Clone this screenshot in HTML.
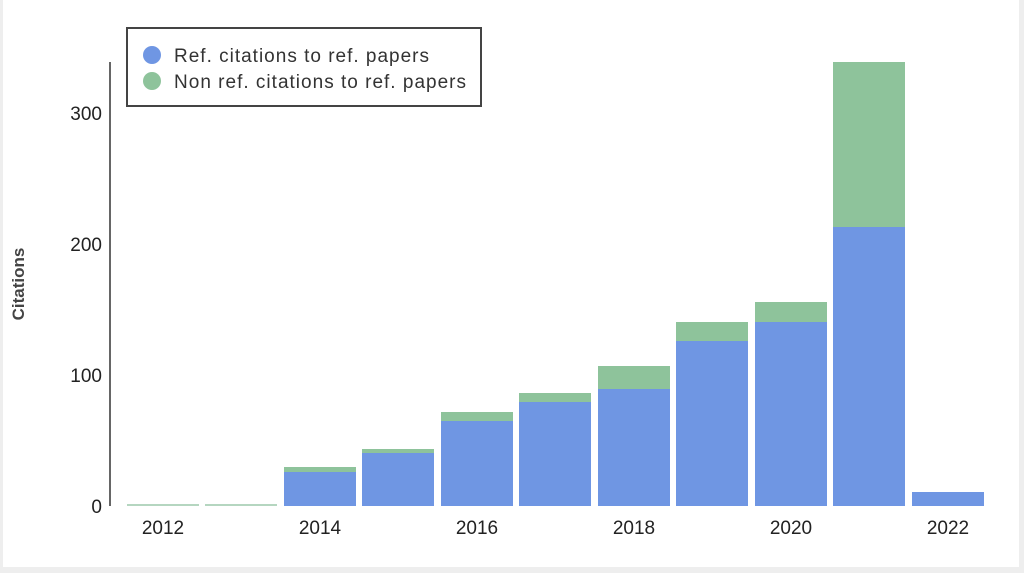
<!DOCTYPE html>
<html><head><style>
html,body{margin:0;padding:0;background:#eeeeee;}
svg{display:block;font-family:"Liberation Sans",Roboto,sans-serif;}
</style></head><body>
<svg width="1024" height="573" viewBox="0 0 1024 573">
<rect x="0" y="0" width="1024" height="573" fill="#eeeeee"/>
<rect x="3" y="0" width="1016" height="567" fill="#ffffff"/>
<line x1="110" y1="62" x2="110" y2="506" stroke="#000" stroke-width="1.2"/>
<g font-size="19" fill="#222" text-anchor="end">
<text x="102" y="513">0</text>
<text x="102" y="382">100</text>
<text x="102" y="251">200</text>
<text x="102" y="120">300</text>
</g>
<text transform="translate(24,284) rotate(-90)" font-size="17" font-weight="bold" fill="#444" text-anchor="middle">Citations</text>
<g>
<rect x="127" y="504" width="72" height="2" fill="#b5d6c0"/>
<rect x="205" y="504" width="72" height="2" fill="#b5d6c0"/>
<rect x="284" y="472" width="72" height="34" fill="#6f96e3"/><rect x="284" y="467" width="72" height="5" fill="#8ec39b"/>
<rect x="362" y="453" width="72" height="53" fill="#6f96e3"/><rect x="362" y="449" width="72" height="4" fill="#8ec39b"/>
<rect x="441" y="421" width="72" height="85" fill="#6f96e3"/><rect x="441" y="412" width="72" height="9" fill="#8ec39b"/>
<rect x="519" y="402" width="72" height="104" fill="#6f96e3"/><rect x="519" y="393" width="72" height="9" fill="#8ec39b"/>
<rect x="598" y="389" width="72" height="117" fill="#6f96e3"/><rect x="598" y="366" width="72" height="23" fill="#8ec39b"/>
<rect x="676" y="341" width="72" height="165" fill="#6f96e3"/><rect x="676" y="322" width="72" height="19" fill="#8ec39b"/>
<rect x="755" y="322" width="72" height="184" fill="#6f96e3"/><rect x="755" y="302" width="72" height="20" fill="#8ec39b"/>
<rect x="833" y="227" width="72" height="279" fill="#6f96e3"/><rect x="833" y="62" width="72" height="165" fill="#8ec39b"/>
<rect x="912" y="492" width="72" height="14" fill="#6f96e3"/>
</g>
<g font-size="19" fill="#222" text-anchor="middle">
<text x="163" y="534">2012</text>
<text x="320" y="534">2014</text>
<text x="477" y="534">2016</text>
<text x="634" y="534">2018</text>
<text x="791" y="534">2020</text>
<text x="948" y="534">2022</text>
</g>
<rect x="127" y="28" width="354" height="78" fill="#fff" stroke="#444" stroke-width="2"/>
<circle cx="152" cy="55" r="9" fill="#6f96e3"/>
<circle cx="152" cy="81" r="9" fill="#8ec39b"/>
<g font-size="19" fill="#333">
<text x="174" y="62" textLength="255" lengthAdjust="spacing">Ref. citations to ref. papers</text>
<text x="174" y="88" textLength="292" lengthAdjust="spacing">Non ref. citations to ref. papers</text>
</g>
</svg>
</body></html>
